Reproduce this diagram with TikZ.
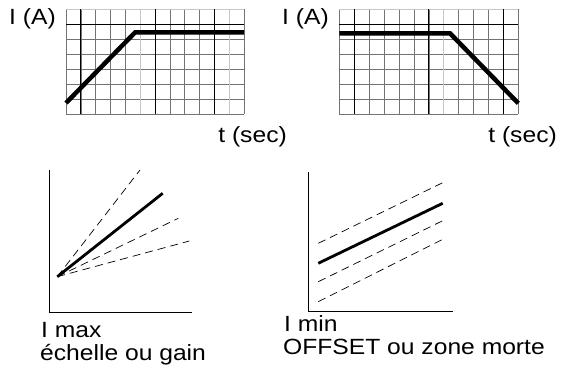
\documentclass[tikz,border=0pt]{standalone}
\usepackage{fontspec}
\setmainfont{Liberation Sans}[FakeStretch=1.12]
\usetikzlibrary{positioning}

\begin{document}
\begin{tikzpicture}[x=1pt, y=-1pt,
  gridline/.style={black!55, line width=0.6pt},
  gridmajor/.style={black, line width=0.8pt},
  gridlight/.style={black!22, line width=0.6pt},
  ramp/.style={line width=4.5pt, line join=miter},
  axis/.style={line width=1.3pt},
  trend/.style={line width=2.8pt},
  guide/.style={line width=0.7pt, dash pattern=on 8pt off 5pt},
  lbl/.style={font=\fontsize{22}{26}\selectfont, inner sep=0pt, anchor=base west}
]
\useasboundingbox (0,0) rectangle (565,374);

% Grid left
\foreach \i in {0,...,12}
  \draw[gridline] (66+\i*14.83,9.3) -- (66+\i*14.83,114.3);
\foreach \j in {0,...,7}
  \draw[gridline] (66,9.3+\j*15) -- (244,9.3+\j*15);
\foreach \i in {5,11}
  \draw[gridlight] (66+\i*14.83,9.3) -- (66+\i*14.83,114.3);
\draw[gridlight] (66,9.3) -- (244,9.3);
\foreach \i in {1,6,10}
  \draw[gridmajor] (66+\i*14.83,9.3) -- (66+\i*14.83,114.3);
\draw[gridmajor] (66,24.3) -- (244,24.3);

% Grid right
\foreach \i in {0,...,12}
  \draw[gridline] (339.3+\i*14.92,9.3) -- (339.3+\i*14.92,114.3);
\foreach \j in {0,...,7}
  \draw[gridline] (339.3,9.3+\j*15) -- (518.3,9.3+\j*15);
\foreach \i in {7}
  \draw[gridlight] (339.3+\i*14.92,9.3) -- (339.3+\i*14.92,114.3);
\draw[gridlight] (339.3,9.3) -- (518.3,9.3);
\foreach \i in {1,6,11}
  \draw[gridmajor] (339.3+\i*14.92,9.3) -- (339.3+\i*14.92,114.3);
\draw[gridmajor] (339.3,24.3) -- (518.3,24.3);

% Ramps
\coordinate (up0) at (66,103);
\coordinate (up1) at (135,32.5);
\coordinate (up2) at (244,32.5);
\draw[ramp] (up0) -- (up1) -- (up2);
\coordinate (dn0) at (339.3,33.3);
\coordinate (dn1) at (450,33.3);
\coordinate (dn2) at (518.3,103.3);
\draw[ramp] (dn0) -- (dn1) -- (dn2);

% Labels top
\node[lbl] (ia1) at (9,25) {I (A)};
\node[lbl] (ia2) at (282,25) {I (A)};
\node[lbl, anchor=base east] (ts1) at (287,143) {t (sec)};
\node[lbl, anchor=base east] (ts2) at (557,143) {t (sec)};

% Gain
\draw[axis] (49.3,170) -- (49.3,312.7) -- (191.7,312.7);
\coordinate (g0) at (57.3,276.7);
\coordinate (g1) at (162.7,193.3);
\draw[trend] (g0) -- (g1);
\foreach \gx/\gy in {140/170, 178.3/218.3, 189.3/241}
  \draw[guide] (g0) -- (\gx,\gy);

% Offset
\draw[axis] (308.3,171.7) -- (308.3,311.7) -- (453.3,311.7);
\coordinate (o0) at (318.3,263.3);
\coordinate (o1) at (442.7,203.3);
\draw[trend] (o0) -- (o1);
\foreach \ya/\yb in {243.3/182.7, 281.7/220.7, 301.7/239.3}
  \draw[guide] (318.3,\ya) -- (442.7,\yb);

% Labels bottom
\node[lbl] (imax) at (41,337) {I max};
\node[lbl] (gain) at (40,360) {échelle ou gain};
\node[lbl] (imin) at (284,331) {I min};
\node[lbl] (offs) at (283,354) {OFFSET ou zone morte};
\end{tikzpicture}
\end{document}
